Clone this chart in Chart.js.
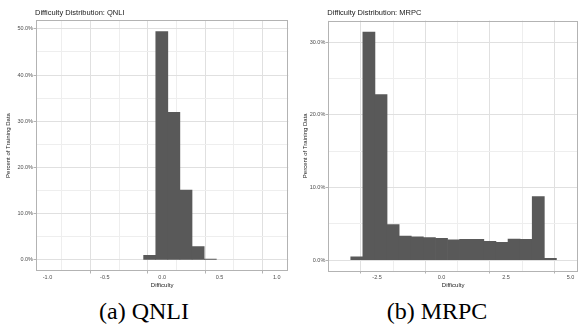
<!DOCTYPE html>
<html>
<head>
<meta charset="utf-8">
<script src="https://cdn.jsdelivr.net/npm/chart.js@4"></script>
<style>
  body { margin: 0; background: #fff; width: 579px; height: 331px; position: relative; overflow: hidden; }
  .panel { position: absolute; top: 0; }
  .caption { position: absolute; font-family: "Liberation Serif", "Times New Roman", serif; font-size: 24px; color: #000; white-space: nowrap; transform: translateX(-50%); }
</style>
</head>
<body>
<div class="panel" style="left:0"><canvas id="qnliChart" width="290" height="295"></canvas></div>
<div class="panel" style="left:290px"><canvas id="mrpcChart" width="289" height="295"></canvas></div>
<div class="caption" style="left:144px; top:298px">(a) QNLI</div>
<div class="caption" style="left:437px; top:298px">(b) MRPC</div>
<script>
// histogram bin centers (Difficulty) and percent of training data
const qnliBins = [-0.109, -0.003, 0.102, 0.208, 0.314, 0.420];
const qnliPct = [1.0, 49.4, 31.9, 15.1, 2.9, 0.2];

const mrpcBins = [-3.285, -2.816, -2.347, -1.878, -1.409, -0.940, -0.471, -0.002, 0.467,
                  0.936, 1.405, 1.874, 2.343, 2.812, 3.281, 3.750, 4.219];
const mrpcPct = [0.46, 31.4, 22.8, 4.9, 3.3, 3.2, 3.1, 3.0, 2.8,
                 2.85, 2.85, 2.6, 2.45, 2.9, 2.85, 8.75, 0.25];

const FONT = "'Liberation Sans', Arial, sans-serif";
const BAR = '#595959';

// ggplot-like panel border + title, drawn on top
const panelDeco = {
    id: 'panelDeco',
    afterDraw(chart, args, opts) {
        const {ctx, chartArea: a} = chart;
        ctx.save();
        ctx.strokeStyle = '#b3b3b3';
        ctx.lineWidth = 1;
        ctx.strokeRect(Math.round(a.left) + 0.5, Math.round(a.top) + 0.5,
            Math.round(a.right - a.left) - 1, Math.round(a.bottom - a.top) - 1);
        ctx.fillStyle = '#1a1a1a';
        ctx.font = '7.5px ' + FONT;
        ctx.textBaseline = 'middle';
        ctx.fillText(opts.text, a.left - 1, 12.7);
        ctx.restore();
    }
};

function isMajor(v, major) {
    const r = v / major;
    return Math.abs(r - Math.round(r)) < 1e-6;
}

function tickIsMajor(c, major) {
    return c.tick ? isMajor(c.tick.value, major) : true;
}

function makeChart(id, bins, pct, cfg) {
    const ctx = document.getElementById(id).getContext('2d');
    return new Chart(ctx, {
        type: 'bar',
        data: {
            datasets: [{
                data: bins.map((b, i) => ({ x: b, y: pct[i] })),
                backgroundColor: BAR,
                borderWidth: 0,
                barPercentage: 1,
                categoryPercentage: 1,
            }],
        },
        plugins: [panelDeco],
        options: {
            responsive: false,
            animation: false,
            devicePixelRatio: 1,
            layout: { padding: cfg.padding },
            plugins: {
                legend: { display: false },
                tooltip: { enabled: false },
                panelDeco: { text: cfg.title },
            },
            scales: {
                x: {
                    type: 'linear',
                    min: cfg.xMin, max: cfg.xMax,
                    offset: false,
                    afterFit: s => { s.height = 24; },
                    border: { display: false },
                    grid: {
                        color: c => tickIsMajor(c, cfg.xMajor) ? '#e0e0e0' : '#eeeeee',
                        lineWidth: 1,
                        drawTicks: true,
                        tickLength: 2.5,
                        tickColor: c => tickIsMajor(c, cfg.xMajor) ? '#b3b3b3' : 'rgba(0,0,0,0)',
                    },
                    ticks: {
                        stepSize: cfg.xMajor / 2,
                        includeBounds: false,
                        maxTicksLimit: 40,
                        autoSkip: false,
                        maxRotation: 0,
                        padding: 1,
                        color: '#4d4d4d',
                        font: { family: FONT, size: 5.5 },
                        callback: v => isMajor(v, cfg.xMajor) ? v.toFixed(1) : '',
                    },
                    title: {
                        display: true,
                        text: 'Difficulty',
                        color: '#1a1a1a',
                        font: { family: FONT, size: 6 },
                        padding: { top: 0, bottom: 5.9 },
                    },
                },
                y: {
                    min: cfg.yMin, max: cfg.yMax,
                    afterFit: s => { s.width = cfg.yWidth; },
                    border: { display: false },
                    grid: {
                        color: c => tickIsMajor(c, 10) ? '#e0e0e0' : '#eeeeee',
                        lineWidth: 1,
                        drawTicks: true,
                        tickLength: 2.5,
                        tickColor: c => tickIsMajor(c, 10) ? '#b3b3b3' : 'rgba(0,0,0,0)',
                    },
                    ticks: {
                        stepSize: 5,
                        includeBounds: false,
                        maxTicksLimit: 40,
                        autoSkip: false,
                        padding: 0.5,
                        color: '#4d4d4d',
                        font: { family: FONT, size: 5.5 },
                        callback: v => isMajor(v, 10) ? v.toFixed(1) + '%' : '',
                    },
                    title: {
                        display: true,
                        text: 'Percent of Training Data',
                        color: '#1a1a1a',
                        font: { family: FONT, size: 6 },
                        padding: { top: 4.7, bottom: 0 },
                    },
                },
            },
        },
    });
}

makeChart('qnliChart', qnliBins, qnliPct, {
    title: 'Difficulty Distribution: QNLI',
    padding: { left: 0, right: 1.7, top: 20, bottom: 0 },
    yWidth: 36,
    xMin: -1.1, xMax: 1.1, xMajor: 0.5,
    yMin: -2.4, yMax: 51.9,
});

makeChart('mrpcChart', mrpcBins, mrpcPct, {
    title: 'Difficulty Distribution: MRPC',
    padding: { left: 7, right: 1, top: 20.5, bottom: 0 },
    yWidth: 31.3,
    xMin: -4.39, xMax: 5.29, xMajor: 2.5,
    yMin: -1.5, yMax: 33.0,
});
</script>
</body>
</html>
